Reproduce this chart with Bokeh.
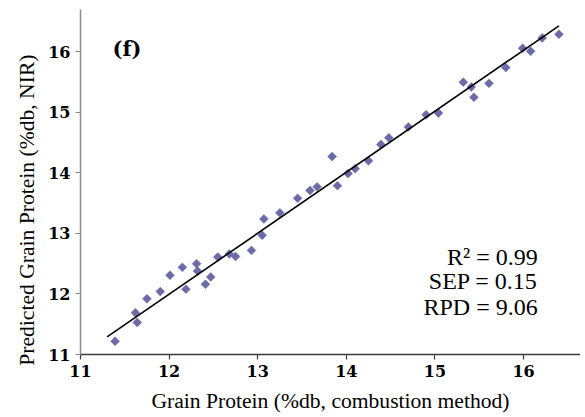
import numpy as np
from bokeh.plotting import figure
from bokeh.models import Label, Range1d, FixedTicker, ColumnDataSource, Title
from bokeh.embed import file_html
from bokeh.resources import INLINE

# Reference (combustion) vs predicted (NIR) grain protein
ref_protein = [11.39, 11.62, 11.64, 11.75, 11.90, 12.01, 12.15, 12.19, 12.31, 12.32,
               12.41, 12.47, 12.55, 12.68, 12.75, 12.93, 13.05, 13.07, 13.25, 13.45,
               13.59, 13.67, 13.84, 13.90, 14.02, 14.10, 14.25, 14.39, 14.48, 14.70,
               14.90, 15.04, 15.32, 15.41, 15.44, 15.61, 15.80, 15.99, 16.08, 16.21,
               16.40]
nir_protein = [11.22, 11.69, 11.53, 11.92, 12.04, 12.31, 12.44, 12.08, 12.50, 12.38,
               12.16, 12.28, 12.61, 12.66, 12.62, 12.72, 12.97, 13.24, 13.34, 13.58,
               13.71, 13.77, 14.27, 13.79, 13.99, 14.07, 14.20, 14.47, 14.58, 14.76,
               14.96, 14.99, 15.50, 15.42, 15.25, 15.48, 15.74, 16.06, 16.01, 16.23,
               16.29]
fit_x = [11.30, 16.40]
fit_y = [11.29, 16.43]
x_ticks = [11, 12, 13, 14, 15, 16]
y_ticks = [11, 12, 13, 14, 15, 16]
stats_lines = ["R\u00b2 = 0.99", "SEP = 0.15", "RPD = 9.06"]
stats_y = [12.61, 12.21, 11.78]
panel_tag = "(f)"
x_title = "Grain Protein (%db, combustion method)"
y_title = "Predicted Grain Protein (%db, NIR)"

SERIF = "Liberation Serif"
BOLD_SERIF = "DejaVu Serif"

p = figure(width=580, height=417, output_backend="svg", toolbar_location=None,
           x_range=Range1d(11, 16.643), y_range=Range1d(11, 16.70),
           min_border_left=80, min_border_right=0, min_border_top=9,
           min_border_bottom=63)
p.outline_line_color = None
p.grid.visible = False
p.background_fill_color = "white"
p.border_fill_color = "white"

src = ColumnDataSource(dict(x=ref_protein, y=nir_protein))
p.scatter("x", "y", source=src, marker="square", angle=np.pi / 4, size=6.3,
          fill_color="#6b6ba8", line_color="#6b6ba8", line_width=0.5)
p.line(fit_x, fit_y, line_color="black", line_width=1.6)

for ax, col in ((p.xaxis[0], "#3a3a3a"), (p.yaxis[0], "#8a8a8a")):
    ax.axis_line_color = col
    ax.major_tick_line_color = col
    ax.minor_tick_line_color = None
    ax.major_tick_out = 5
    ax.major_tick_in = 0
    ax.axis_line_width = 1.5
    ax.major_tick_line_width = 1.2
    ax.major_label_text_font = BOLD_SERIF
    ax.major_label_text_font_style = "bold"
    ax.major_label_text_font_size = "16px"
    ax.major_label_text_color = "black"

p.xaxis.ticker = FixedTicker(ticks=x_ticks)
p.yaxis.ticker = FixedTicker(ticks=y_ticks)
p.xaxis.major_label_standoff = 5
p.yaxis.major_label_standoff = 5
p.xaxis.axis_label = x_title
p.xaxis.axis_label_text_font = SERIF
p.xaxis.axis_label_text_font_style = "normal"
p.xaxis.axis_label_text_font_size = "21.6px"
p.xaxis.axis_label_text_color = "black"
p.xaxis.axis_label_standoff = 9

yt = Title(text=y_title, align="right", offset=45, text_font=SERIF,
           text_font_size="21.6px", text_font_style="normal", text_color="black",
           standoff=14)
p.add_layout(yt, "left")

for t, yy in zip(stats_lines, stats_y):
    p.add_layout(Label(x=16.16, y=yy, text=t, text_align="right",
                       text_baseline="middle", text_font=SERIF,
                       text_font_size="24px", text_color="black"))

p.add_layout(Label(x=11.525, y=16.05, text=panel_tag, text_align="center",
                   text_baseline="middle", text_font=BOLD_SERIF,
                   text_font_style="bold",
                   text_font_size="21px", text_color="black"))

open("out.html", "w").write(file_html(p, INLINE))
